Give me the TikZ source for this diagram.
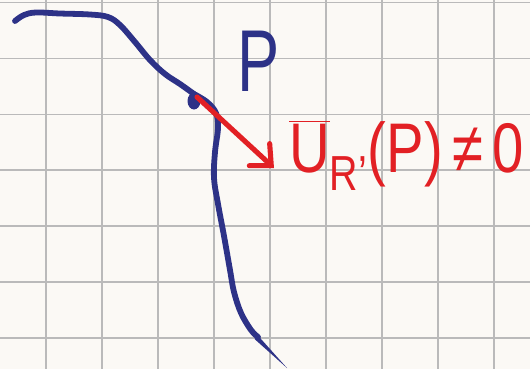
\documentclass[tikz,border=0pt]{standalone}
\usepackage{graphicx}
\usepackage{fontspec}
\setmainfont{Liberation Sans}
\usetikzlibrary{arrows.meta}
\definecolor{PaperWhite}{RGB}{251,249,245}
\definecolor{GridGray}{RGB}{186,186,186}
\definecolor{InkBlue}{RGB}{45,50,135}
\definecolor{InkRed}{RGB}{226,32,36}
\tikzset{
  gridline/.style={GridGray,line width=0.85pt},
  curve/.style={InkBlue,line width=3.3pt,line cap=round,line join=round},
  vecarrow/.style={InkRed,line width=2.9pt,line cap=round,
    -{Straight Barb[length=3.2mm,width=6mm,line cap=round]}},
  pointlabel/.style={InkBlue,font=\fontsize{50}{50}\selectfont,inner sep=0pt},
  veclabel/.style={InkRed,font=\fontsize{40}{40}\selectfont,inner sep=0pt}
}

\begin{document}
\begin{tikzpicture}[x=0.02cm,y=-0.02cm]
  \useasboundingbox (0,0) rectangle (530,369);
  \fill[PaperWhite] (0,0) rectangle (530,369);
  % squared paper
  \foreach \gx in {46,102,158,214,270,326,382,438,494}
    \draw[gridline] (\gx,0) -- (\gx,369);
  \foreach \gy in {2.7,58.5,114.3,170,226,282,338}
    \draw[gridline] (0,\gy) -- (530,\gy);
  % the curve
  \draw[curve] plot[smooth,tension=0.6] coordinates {(15,21) (24,15) (36,12.5)
    (60,13.5) (90,14.5) (108,17) (120,25) (135,42) (150,60) (165,74) (180,84) (194,94)};
  \draw[curve] plot[smooth,tension=0.6] coordinates {(194,94) (207,102) (216,113)
    (218,128) (215,152) (214,178) (218,204) (224,236) (230,270) (234,292)
    (241,313) (251,330) (258,337)};
  \fill[InkBlue] (257,334.5) -- (287,368) -- (254.5,339) -- cycle;
  \fill[InkBlue] (194,101) ellipse [x radius=6.5,y radius=8.5];
  % point and vector
  \coordinate (p) at (197,97);
  \coordinate (tip) at (274,168);
  \node[pointlabel] (plabel) at (259,61) {\scalebox{0.72}[1]{P}};
  \draw[vecarrow] (p) -- (tip);
  \node[veclabel,anchor=base west] (ulabel) at (289,172)
    {\scalebox{0.8}[1]{$\overline{\hbox{U}}$\textsubscript{R'}(P)\,≠\,0}};
\end{tikzpicture}
\end{document}
